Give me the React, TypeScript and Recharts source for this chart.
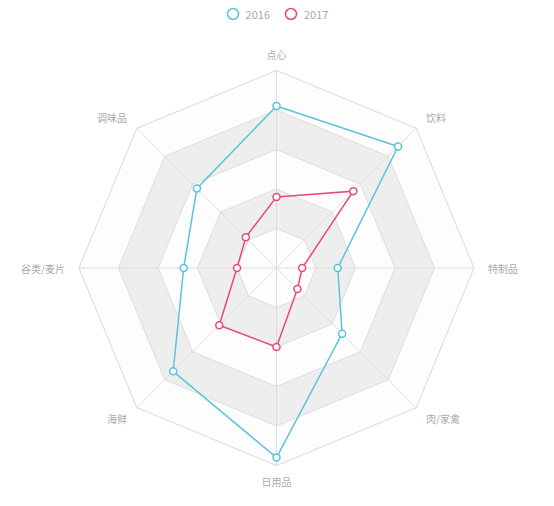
import React from 'react';
import {
  RadarChart,
  Radar,
  PolarGrid,
  PolarAngleAxis,
  PolarRadiusAxis,
} from 'recharts';

const categories = ['点心', '饮料', '特制品', '肉/家禽', '日用品', '海鲜', '谷类/麦片', '调味品'];
const sales2016 = [82, 87, 31, 47, 96, 74, 47, 57];
const sales2017 = [36, 55, 13, 15, 40, 41, 20, 22];
const ringLevels = [20, 40, 60, 80, 100];

const BLUE = '#5bc3dc';
const RED = '#e8487e';
const GRID = '#dddddd';
const FONT = '"Noto Sans CJK SC", "Noto Sans", sans-serif';

const data = categories.map((name, i) => {
  const row: Record<string, number | string> = { name, y2016: sales2016[i], y2017: sales2017[i] };
  ringLevels.forEach((lv, j) => {
    row[`ring${j}`] = lv;
  });
  return row;
});

// outer to inner, alternating light / grey split areas
const bandOrder = ringLevels.map((_, j) => j).reverse();
const outerKey = `ring${ringLevels.length - 1}`;

// spokes from the centre to each outer vertex, drawn above the split areas
const Spokes = (props: any) => {
  const { points } = props;
  if (!points) return null;
  return (
    <g>
      {points.map((p: any, i: number) => (
        <line key={i} x1={p.cx} y1={p.cy} x2={p.x} y2={p.y} stroke={GRID} strokeWidth={1} />
      ))}
    </g>
  );
};

const AngleTick = (props: any) => {
  const { x, y, cx, cy, payload } = props;
  const dx = x - cx;
  const dy = y - cy;
  const len = Math.sqrt(dx * dx + dy * dy) || 1;
  const ux = dx / len;
  const uy = dy / len;
  const tx = x + ux * 6;
  const ty = y + uy * 8;
  let anchor: 'start' | 'middle' | 'end' = 'middle';
  if (ux > 0.1) anchor = 'start';
  else if (ux < -0.1) anchor = 'end';
  return (
    <text
      x={tx}
      y={ty}
      textAnchor={anchor}
      dominantBaseline="central"
      fill="#aaa"
      fontSize={10}
      fontFamily={FONT}
    >
      {payload.value}
    </text>
  );
};

const LegendBar = () => (
  <div
    style={{
      position: 'absolute',
      top: 6,
      left: 0,
      width: 554,
      display: 'flex',
      justifyContent: 'center',
      gap: 14,
      fontFamily: FONT,
      fontSize: 11,
      color: '#aaa',
    }}
  >
    {[
      { label: '2016', color: BLUE },
      { label: '2017', color: RED },
    ].map((item) => (
      <div key={item.label} style={{ display: 'flex', alignItems: 'center', gap: 6 }}>
        <svg width={14} height={14}>
          <circle cx={7} cy={7} r={5.5} fill="#fff" stroke={item.color} strokeWidth={1.5} />
        </svg>
        <span>{item.label}</span>
      </div>
    ))}
  </div>
);

export default function App() {
  return (
    <div style={{ position: 'absolute', left: 0, top: 0, width: 554, height: 506, background: '#fff' }}>
      <LegendBar />
      <RadarChart
        width={554}
        height={506}
        data={data}
        cx={276.5}
        cy={268}
        outerRadius={197.5}
        startAngle={90}
        endAngle={-270}
      >
        {bandOrder.map((j) => (
          <Radar
            key={`ring${j}`}
            dataKey={`ring${j}`}
            stroke={GRID}
            strokeWidth={1}
            fill={j % 2 === 0 ? '#fdfdfd' : '#eeeeee'}
            fillOpacity={1}
            dot={false}
            activeDot={false}
            legendType="none"
            isAnimationActive={false}
          />
        ))}
        <Radar
          dataKey={outerKey}
          shape={<Spokes />}
          stroke="none"
          fill="none"
          dot={false}
          activeDot={false}
          legendType="none"
          isAnimationActive={false}
        />
        <PolarGrid gridType="polygon" stroke={GRID} polarRadius={ringLevels.map((v) => (v / 100) * 197.5)} />
        <PolarAngleAxis dataKey="name" tick={<AngleTick />} tickLine={false} axisLine={false} />
        <PolarRadiusAxis domain={[0, 100]} tick={false} axisLine={false} tickCount={6} />
        <Radar
          dataKey="y2016"
          stroke={BLUE}
          strokeWidth={1.5}
          fill="none"
          fillOpacity={0}
          dot={{ r: 3.5, fill: '#fff', fillOpacity: 1, stroke: BLUE, strokeWidth: 1.5 }}
          isAnimationActive={false}
        />
        <Radar
          dataKey="y2017"
          stroke={RED}
          strokeWidth={1.5}
          fill="none"
          fillOpacity={0}
          dot={{ r: 3.5, fill: '#fff', fillOpacity: 1, stroke: RED, strokeWidth: 1.5 }}
          isAnimationActive={false}
        />
      </RadarChart>
    </div>
  );
}
